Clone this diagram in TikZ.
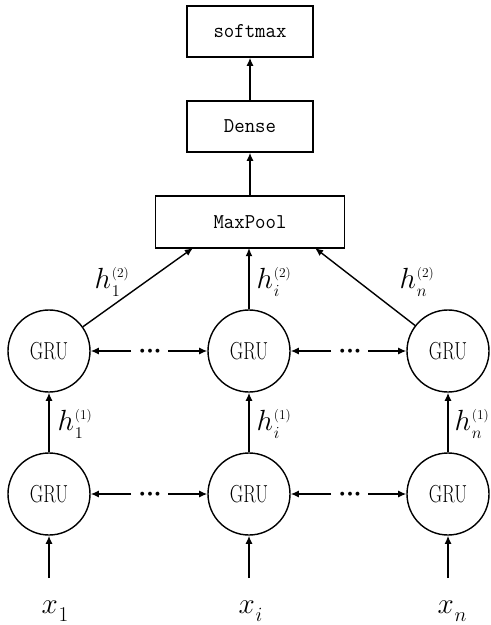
\documentclass[tikz,border=0pt]{standalone}
\usetikzlibrary{arrows.meta,calc}

% h with stacked subscript and parenthesised superscript
\newcommand\hlab[2]{$h$\hspace{0.03em}\rlap{\raisebox{0.38em}{\fontsize{11.5}{11.5}\selectfont(#2)}}\raisebox{-0.32em}{\fontsize{14}{14}\selectfont #1}}
% x with subscript
\newcommand\xlab[1]{$x$\hspace{0.02em}\raisebox{-0.28em}{\fontsize{18}{18}\selectfont #1}}
% three bold dots between recurrent arrows
\newcommand\threedots{$\bullet$\hspace{2.3pt}$\bullet$\hspace{2.3pt}$\bullet$}

\begin{document}
\begin{tikzpicture}[x=0.03cm,y=-0.03cm,
  line width=1.2pt,
  arr/.style={-{Latex[length=7pt,width=6pt]}},
  layerbox/.style={draw,rectangle,inner sep=0pt,font=\fontsize{18}{18}\selectfont\ttfamily},
  grucell/.style={draw,circle,inner sep=0pt,minimum size=2.46cm,font=\fontsize{21}{21}\selectfont},
  hlabel/.style={inner sep=0pt,anchor=base west,font=\fontsize{23}{23}\selectfont},
  xlabel/.style={inner sep=0pt,anchor=base west,font=\fontsize{26}{26}\selectfont},
  dotsnode/.style={inner sep=0pt,font=\fontsize{8.5}{8.5}\selectfont}
]
\useasboundingbox (0,0) rectangle (490,625);

% layer boxes
\node[layerbox,minimum width=3.78cm,minimum height=1.53cm] (soft) at (250,31.5) {\scalebox{0.96}[1]{softmax}};
\node[layerbox,minimum width=3.78cm,minimum height=1.53cm] (dense) at (250,126.5) {\scalebox{0.96}[1]{Dense}};
\node[layerbox,minimum width=5.67cm,minimum height=1.56cm] (pool) at (250,222) {\scalebox{0.96}[1]{MaxPool}};

% GRU cells
\node[grucell] (ga1) at (49,351) {\scalebox{0.75}[1]{GRU}};
\node[grucell] (gai) at (249,351) {\scalebox{0.75}[1]{GRU}};
\node[grucell] (gan) at (448,351) {\scalebox{0.75}[1]{GRU}};
\node[grucell] (gb1) at (49,494) {\scalebox{0.75}[1]{GRU}};
\node[grucell] (gbi) at (249,494) {\scalebox{0.75}[1]{GRU}};
\node[grucell] (gbn) at (448,494) {\scalebox{0.75}[1]{GRU}};

% inputs
\node[xlabel] (x1) at (41,613) {\xlab{1}};
\node[xlabel] (xi) at (238,613) {\xlab{$i$}};
\node[xlabel] (xn) at (437,613) {\xlab{$n$}};
\coordinate (in1) at (49,578);
\coordinate (ini) at (249,578);
\coordinate (inn) at (448,578);

% upper layer arrows
\draw[arr] (pool) -- (dense);
\draw[arr] (dense) -- (soft);

% inputs into the first GRU layer
\draw[arr] (in1) -- (gb1);
\draw[arr] (ini) -- (gbi);
\draw[arr] (inn) -- (gbn);

% first to second GRU layer
\draw[arr] (gb1) -- (ga1);
\draw[arr] (gbi) -- (gai);
\draw[arr] (gbn) -- (gan);

% second GRU layer into MaxPool
\coordinate (pl) at (193,248);
\coordinate (pr) at (315,248);
\coordinate (pm) at (249,248);
\draw[arr] (ga1) -- (pl);
\draw[arr] (gai) -- (pm);
\draw[arr] (gan) -- (pr);

% recurrent connections with ellipses, upper layer
\coordinate (al1) at (131,351);
\coordinate (ar1) at (168,351);
\coordinate (al2) at (331,351);
\coordinate (ar2) at (368,351);
\node[dotsnode] (ad1) at (150,351) {\threedots};
\node[dotsnode] (ad2) at (350,351) {\threedots};
\draw[arr] (al1) -- (ga1);
\draw[arr] (ar1) -- (gai);
\draw[arr] (al2) -- (gai);
\draw[arr] (ar2) -- (gan);

% recurrent connections with ellipses, lower layer
\coordinate (bl1) at (131,494);
\coordinate (br1) at (168,494);
\coordinate (bl2) at (331,494);
\coordinate (br2) at (368,494);
\node[dotsnode] (bd1) at (150,494) {\threedots};
\node[dotsnode] (bd2) at (350,494) {\threedots};
\draw[arr] (bl1) -- (gb1);
\draw[arr] (br1) -- (gbi);
\draw[arr] (bl2) -- (gbi);
\draw[arr] (br2) -- (gbn);

% hidden state labels
\node[hlabel] (h11) at (57,430) {\hlab{1}{1}};
\node[hlabel] (h1i) at (256,430) {\hlab{$i$}{1}};
\node[hlabel] (h1n) at (454,430) {\hlab{$n$}{1}};
\node[hlabel] (h21) at (94,288) {\hlab{1}{2}};
\node[hlabel] (h2i) at (256,288) {\hlab{$i$}{2}};
\node[hlabel] (h2n) at (399,288) {\hlab{$n$}{2}};
\end{tikzpicture}
\end{document}
